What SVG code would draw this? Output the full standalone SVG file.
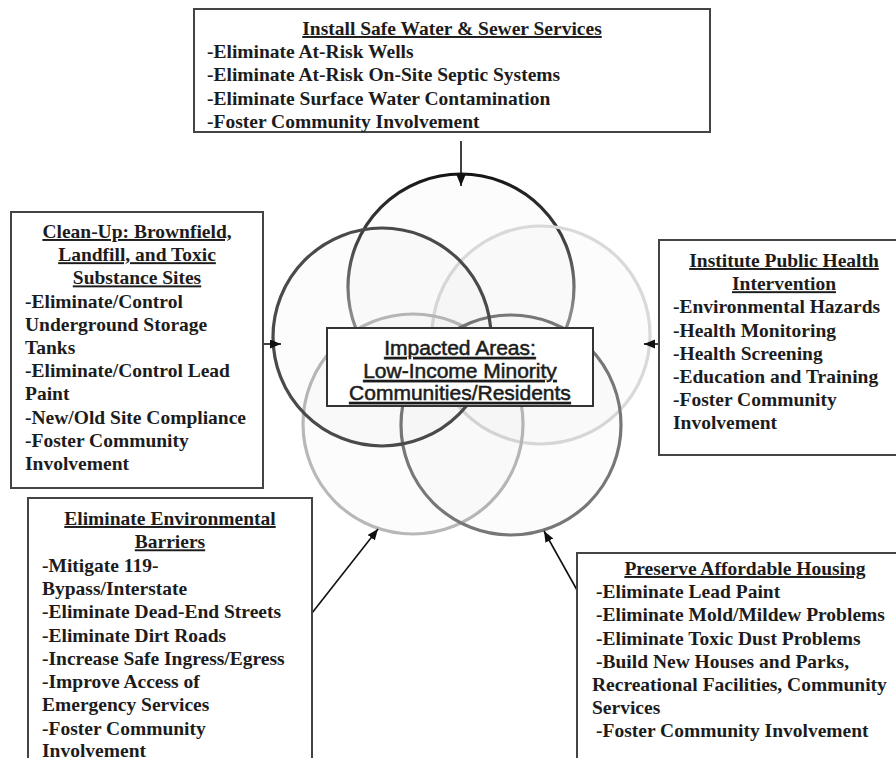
<svg xmlns="http://www.w3.org/2000/svg" width="896" height="758" viewBox="0 0 896 758">
<style>
.box{fill:#fff;stroke:#444;stroke-width:2}
.t{font-family:"Liberation Serif","Times New Roman",serif;font-weight:bold;font-size:19.5px;fill:#1c1c1c}
.ti{text-anchor:middle;text-decoration:underline}
.c{font-family:"Liberation Sans",Arial,sans-serif;font-size:21px;fill:#1c1c1c;text-anchor:middle;text-decoration:underline;stroke:#1c1c1c;stroke-width:0.55}
.ring{fill:#000;fill-opacity:0.012;stroke-width:3.2}
.con{stroke:#111;stroke-width:1.6;fill:none;marker-end:url(#ah)}
</style>
<defs>
<marker id="ah" markerUnits="userSpaceOnUse" markerWidth="12" markerHeight="10" refX="11" refY="4.5" orient="auto">
<path d="M0,0 L11,4.5 L0,9 z" fill="#111"/>
</marker>
<linearGradient id="gTop" x1="0" y1="0" x2="0" y2="1">
<stop offset="0" stop-color="#151515"/>
<stop offset="0.3" stop-color="#444"/>
<stop offset="0.6" stop-color="#8a8a8a"/>
<stop offset="1" stop-color="#999"/>
</linearGradient>
</defs>
<rect width="896" height="758" fill="#fff"/>

<g id="venn">
<circle class="ring" cx="461" cy="287" r="113" stroke="url(#gTop)"/>
<circle class="ring" cx="541" cy="335" r="109" stroke="#d9d9d9"/>
<circle class="ring" cx="413" cy="424" r="110" stroke="#b8b8b8"/>
<circle class="ring" cx="511" cy="425" r="110" stroke="#777"/>
<circle class="ring" cx="382" cy="337" r="109" stroke="#4a4a4a"/>
</g>

<g id="connectors">
<line class="con" x1="461" y1="141" x2="461" y2="186"/>
<line class="con" x1="263" y1="344" x2="281" y2="344"/>
<line class="con" x1="659" y1="344" x2="644" y2="344"/>
<line class="con" x1="312" y1="613" x2="378" y2="529"/>
<line class="con" x1="577" y1="590" x2="544" y2="531"/>
</g>

<g id="center">
<rect x="327" y="328" width="266" height="78" fill="#fff" stroke="#333" stroke-width="2"/>
<text class="c" x="460" y="355">Impacted Areas:</text>
<text class="c" x="460" y="378">Low-Income Minority</text>
<text class="c" x="460" y="400">Communities/Residents</text>
</g>

<g id="water">
<rect class="box" x="194" y="9" width="516" height="123"/>
<text class="t ti" x="452" y="35">Install Safe Water &amp; Sewer Services</text>
<text class="t" x="207" y="58.2">-Eliminate At-Risk Wells</text>
<text class="t" x="207" y="81.4">-Eliminate At-Risk On-Site Septic Systems</text>
<text class="t" x="207" y="104.6">-Eliminate Surface Water Contamination</text>
<text class="t" x="207" y="127.8">-Foster Community Involvement</text>
</g>

<g id="cleanup">
<rect class="box" x="11" y="212" width="252" height="276"/>
<text class="t ti" x="137" y="238">Clean-Up: Brownfield,</text>
<text class="t ti" x="137" y="261.2">Landfill, and Toxic</text>
<text class="t ti" x="137" y="284.4">Substance Sites</text>
<text class="t" x="25" y="307.6">-Eliminate/Control</text>
<text class="t" x="25" y="330.8">Underground Storage</text>
<text class="t" x="25" y="354">Tanks</text>
<text class="t" x="25" y="377.2">-Eliminate/Control Lead</text>
<text class="t" x="25" y="400.4">Paint</text>
<text class="t" x="25" y="423.6">-New/Old Site Compliance</text>
<text class="t" x="25" y="446.8">-Foster Community</text>
<text class="t" x="25" y="470">Involvement</text>
</g>

<g id="health">
<rect class="box" x="659" y="240" width="250" height="215"/>
<text class="t ti" x="784" y="267">Institute Public Health</text>
<text class="t ti" x="784" y="290.2">Intervention</text>
<text class="t" x="673" y="313.4">-Environmental Hazards</text>
<text class="t" x="673" y="336.6">-Health Monitoring</text>
<text class="t" x="673" y="359.8">-Health Screening</text>
<text class="t" x="673" y="383">-Education and Training</text>
<text class="t" x="673" y="406.2">-Foster Community</text>
<text class="t" x="673" y="429.4">Involvement</text>
</g>

<g id="barriers">
<rect class="box" x="28" y="498" width="284" height="280"/>
<text class="t ti" x="170" y="525">Eliminate Environmental</text>
<text class="t ti" x="170" y="548.3">Barriers</text>
<text class="t" x="42" y="571.6">-Mitigate 119-</text>
<text class="t" x="42" y="594.9">Bypass/Interstate</text>
<text class="t" x="42" y="618.2">-Eliminate Dead-End Streets</text>
<text class="t" x="42" y="641.5">-Eliminate Dirt Roads</text>
<text class="t" x="42" y="664.8">-Increase Safe Ingress/Egress</text>
<text class="t" x="42" y="688.1">-Improve Access of</text>
<text class="t" x="42" y="711.4">Emergency Services</text>
<text class="t" x="42" y="734.7">-Foster Community</text>
<text class="t" x="42" y="757">Involvement</text>
</g>

<g id="housing">
<rect class="box" x="577" y="553" width="340" height="230"/>
<text class="t ti" x="745" y="575">Preserve Affordable Housing</text>
<text class="t" x="596" y="598.2">-Eliminate Lead Paint</text>
<text class="t" x="596" y="621.4">-Eliminate Mold/Mildew Problems</text>
<text class="t" x="596" y="644.6">-Eliminate Toxic Dust Problems</text>
<text class="t" x="596" y="667.8">-Build New Houses and Parks,</text>
<text class="t" x="592" y="691">Recreational Facilities, Community</text>
<text class="t" x="592" y="714.2">Services</text>
<text class="t" x="596" y="737.4">-Foster Community Involvement</text>
</g>
</svg>
